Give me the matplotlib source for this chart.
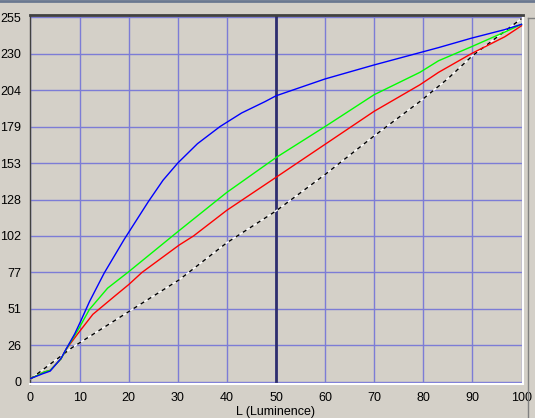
import matplotlib.pyplot as plt
from matplotlib.lines import Line2D

# Luminance (L) sample points and curve values (0-255)
lum_blue = [0, 2.5, 4, 6.2, 7.3, 9, 10.3, 12, 15, 19.1, 24, 27, 30, 34, 38.6, 43, 47.8, 50, 60, 70, 83.1, 89.8, 96.6, 100]
val_blue = [2.3, 5.7, 7.5, 16.3, 23.2, 33.5, 43, 56, 76, 99.7, 126, 141, 153, 166.5, 178.5, 188, 196, 200, 211.8, 221.6, 233.7, 240.3, 246.3, 250]

lum_green = [0, 2.9, 4, 6.2, 7.3, 9.6, 12, 15.7, 20, 30, 40, 50, 60, 70, 79.3, 83.1, 89.8, 96.6, 100]
val_green = [2.3, 7, 8, 16, 23, 35.8, 50.6, 65.5, 77, 105, 132.5, 156.8, 178.5, 200.8, 216.4, 224.5, 234.3, 244.6, 250]

lum_red = [0, 2.9, 4, 6.2, 7.3, 9.6, 12.7, 17.1, 20, 22.7, 30.3, 33.2, 40, 50, 60, 70, 79.3, 83.1, 89.8, 96.6, 100]
val_red = [2.3, 7, 8, 16, 23, 33.5, 47.2, 59.8, 68, 76.5, 95.7, 102, 120, 143, 166.1, 189.2, 207.7, 216.4, 229.5, 241.3, 249]

lum_ref = [0, 8.5, 21.8, 30.3, 40, 50, 60, 70, 79.3, 85, 90, 95, 100]
val_ref = [2, 24, 53, 71.4, 97.3, 119.5, 145, 172, 196, 212, 228, 241, 254]

y_ticks = [0, 25.5, 51, 76.5, 102, 127.5, 153, 178.5, 204, 229.5, 255]
y_labels = ['0', '26', '51', '77', '102', '128', '153', '179', '204', '230', '255']
x_ticks = [0, 10, 20, 30, 40, 50, 60, 70, 80, 90, 100]

bg = '#D4D0C8'
grid_col = '#7C7CD6'

fig = plt.figure(figsize=(5.35, 4.18), dpi=100, facecolor=bg)
ax = fig.add_axes([29.5 / 535, 1 - 384 / 418, 493 / 535, 369 / 418])
ax.set_facecolor(bg)

for y in y_ticks:
    ax.axhline(y, color=grid_col, lw=1.0, zorder=1)
for x in x_ticks:
    ax.axvline(x, color=grid_col, lw=1.0, zorder=1)
ax.axvline(50, color='#2E2E6E', lw=2.0, zorder=2)

# reference diagonal: white under black dashes
ax.plot(lum_ref, val_ref, color='white', lw=1.0, zorder=3)
ax.plot(lum_ref, val_ref, color='black', lw=1.0, ls=(0, (3, 3)), zorder=4)
ax.plot(lum_red, val_red, color='#FF0000', lw=1.0, zorder=5)
ax.plot(lum_green, val_green, color='#00FF00', lw=1.0, zorder=5)
ax.plot(lum_blue, val_blue, color='#0000FF', lw=1.0, zorder=6)

ax.set_xlim(-0.2, 100.2)
ax.set_ylim(-1.5, 256.5)
ax.set_xticks(x_ticks)
ax.set_yticks(y_ticks)
ax.set_yticklabels(y_labels)
ax.tick_params(length=0, labelsize=9, pad=6)
for lab in ax.get_xticklabels() + ax.get_yticklabels():
    lab.set_fontfamily('Liberation Sans')
ax.set_xlabel('L (Luminence)', fontsize=9, family='Liberation Sans', labelpad=1)

ax.spines['top'].set_color('#404040')
ax.spines['top'].set_linewidth(2.0)
ax.spines['left'].set_color('#404040')
ax.spines['left'].set_linewidth(1.0)
ax.spines['bottom'].set_color('white')
ax.spines['bottom'].set_linewidth(1.5)
ax.spines['right'].set_color('white')
ax.spines['right'].set_linewidth(1.5)

# window frame bits
fig.add_artist(Line2D([0, 1], [1 - 1 / 418, 1 - 1 / 418], color='#6A7890', lw=2))
fig.add_artist(Line2D([528 / 535, 535 / 535], [1 - 18 / 418, 1 - 18 / 418], color='#808080', lw=1))
fig.add_artist(Line2D([528 / 535, 528 / 535], [0, 1 - 18 / 418], color='#808080', lw=1))

fig.savefig('out.png', dpi=100, facecolor=bg)
